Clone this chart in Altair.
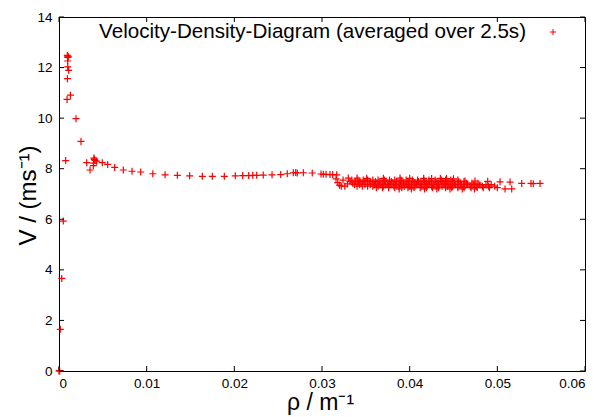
import altair as alt
import pandas as pd

# ---- data ----
# rising branch, peak and decay towards free-flow speed
rho_a = [0.0, 0.00004, 0.00008, 0.00015, 0.00031, 0.00049, 0.00076, 0.00092, 0.00096,
         0.00099, 0.00099, 0.00099, 0.00102, 0.00095, 0.00105, 0.00110, 0.00130,
         0.00194, 0.00251, 0.00316, 0.00354, 0.00392, 0.00396, 0.00403, 0.00398,
         0.00410, 0.00430, 0.00494, 0.00555, 0.00635, 0.00734, 0.00833, 0.00932,
         0.01070, 0.01210, 0.01350, 0.01490]
v_a = [0.0, 0.02, 0.0, 1.65, 3.66, 5.93, 8.32, 10.74, 11.56,
       12.03, 12.26, 12.40, 12.45, 12.48, 12.42, 11.89, 10.91,
       9.98, 9.08, 8.24, 7.95, 8.12, 8.22, 8.37, 8.42,
       8.33, 8.30, 8.24, 8.17, 8.05, 7.95, 7.90, 7.87,
       7.80, 7.76, 7.74, 7.72]

# plateau
rho_b = [0.01635, 0.01749, 0.01886, 0.02011, 0.02095, 0.02164, 0.02210, 0.02255,
         0.02330, 0.02430, 0.02529, 0.02604, 0.02673, 0.02700, 0.02718, 0.02787,
         0.02889, 0.02989, 0.03015, 0.03046, 0.03091, 0.03122, 0.03168,
         0.0316, 0.0318, 0.0320, 0.0322, 0.0326, 0.0329, 0.0324]
v_b = [7.70, 7.70, 7.70, 7.72, 7.73, 7.73, 7.74, 7.74,
       7.75, 7.76, 7.77, 7.80, 7.84, 7.85, 7.83, 7.84,
       7.83, 7.79, 7.78, 7.78, 7.77, 7.77, 7.76,
       7.60, 7.45, 7.35, 7.31, 7.31, 7.40, 7.55]

# dense congested band, one list per speed level
band_755 = [0.0334, 0.0341, 0.0347, 0.0352, 0.0358, 0.0364, 0.0371, 0.0377, 0.0383, 0.0390,
            0.0396, 0.0403, 0.0409, 0.0416, 0.0422, 0.0429, 0.0436, 0.0441, 0.0447, 0.0455]
band_749 = [0.0332, 0.0338, 0.0343, 0.0349, 0.0355, 0.0361, 0.0366, 0.0372, 0.0379, 0.0385,
            0.0391, 0.0398, 0.0404, 0.0410, 0.0417, 0.0423, 0.0430, 0.0436, 0.0442, 0.0449,
            0.0456, 0.0462]
band_743 = [0.0335, 0.0341, 0.0346, 0.0352, 0.0358, 0.0363, 0.0369, 0.0375, 0.0381, 0.0388,
            0.0393, 0.0399, 0.0406, 0.0412, 0.0419, 0.0425, 0.0432, 0.0438, 0.0444, 0.0451,
            0.0458, 0.0465, 0.0471, 0.0478]
band_737 = [0.0337, 0.0343, 0.0349, 0.0355, 0.0360, 0.0366, 0.0372, 0.0378, 0.0384, 0.0390,
            0.0396, 0.0402, 0.0408, 0.0414, 0.0421, 0.0427, 0.0433, 0.0440, 0.0446, 0.0452,
            0.0459, 0.0466, 0.0473, 0.0480, 0.0487, 0.0493]
band_731 = [0.0340, 0.0346, 0.0352, 0.0358, 0.0364, 0.0370, 0.0376, 0.0382, 0.0388, 0.0394,
            0.0400, 0.0406, 0.0413, 0.0419, 0.0425, 0.0431, 0.0437, 0.0443, 0.0449, 0.0455,
            0.0462, 0.0469, 0.0476, 0.0483, 0.0490, 0.0497]
band_725 = [0.0362, 0.0369, 0.0376, 0.0383, 0.0391, 0.0398, 0.0405, 0.0412, 0.0419, 0.0426,
            0.0433, 0.0441, 0.0448, 0.0455, 0.0462, 0.0470, 0.0477, 0.0484, 0.0491, 0.0500]
band_720 = [0.0388, 0.0402, 0.0417, 0.0431, 0.0446, 0.0460, 0.0474]
band_levels = [7.55, 7.49, 7.43, 7.37, 7.31, 7.25, 7.20]
band_rows = [band_755, band_749, band_743, band_737, band_731, band_725, band_720]

# scattered points above the band and the tail
rho_c = [0.0330, 0.0340, 0.0351, 0.0370, 0.0389, 0.0400, 0.0416, 0.0425, 0.0435, 0.0442, 0.0450,
         0.04631, 0.04745, 0.04890, 0.05031, 0.05145,
         0.05278, 0.05384, 0.05410, 0.05487, 0.05088, 0.05164]
v_c = [7.63, 7.63, 7.62, 7.62, 7.63, 7.62, 7.62, 7.61, 7.62, 7.61, 7.60,
       7.51, 7.51, 7.50, 7.48, 7.47,
       7.42, 7.42, 7.41, 7.42, 7.20, 7.20]

x_ticks = [0.0, 0.01, 0.02, 0.03, 0.04, 0.05, 0.06]
y_ticks = [0, 2, 4, 6, 8, 10, 12, 14]

legend_label = "Velocity-Density-Diagram (averaged over 2.5s)"
x_title = "ρ / m⁻¹"
y_title = "V / (ms⁻¹)"

# ---- build table ----
rho_all = list(rho_a) + list(rho_b)
v_all = list(v_a) + list(v_b)
for lvl, row in zip(band_levels, band_rows):
    rho_all += row
    v_all += [lvl] * len(row)
rho_all += rho_c
v_all += v_c
df = pd.DataFrame({"rho": rho_all, "v": v_all})

W, H = 526, 354
FONT = "Liberation Sans"
RED = "#ff0000"
PLUS = "M-1,0L1,0M0,-1L0,1"

xscale = alt.Scale(domain=[0, 0.06], nice=False, zero=True)
yscale = alt.Scale(domain=[0, 14], nice=False, zero=True)

xaxis = alt.Axis(values=x_ticks, title=x_title, labelPadding=5, titleFontSize=23,
                 labelExpr="datum.value == 0 ? '0' : format(datum.value, '.2f')",
                 titleX=261, titleY=38, titleBaseline="alphabetic", titleAlign="center")
yaxis = alt.Axis(values=y_ticks, title=y_title,
                 titleAngle=270, titleX=-24, titleY=178,
                 titleAlign="center", titleBaseline="alphabetic")

points = alt.Chart(df).mark_point(
    shape=PLUS, filled=False, stroke=RED, strokeWidth=1.2, size=49, opacity=1, clip=False
).encode(
    x=alt.X("rho:Q", scale=xscale, axis=xaxis),
    y=alt.Y("v:Q", scale=yscale, axis=yaxis),
)

xt = pd.DataFrame({"t": x_ticks})
yt = pd.DataFrame({"t": y_ticks})

tick_style = dict(color="black", strokeWidth=1)
xb = alt.Chart(xt).mark_rule(**tick_style).encode(
    x=alt.X("t:Q", scale=xscale, axis=xaxis), y=alt.value(H), y2=alt.value(H - 5))
xtop = alt.Chart(xt).mark_rule(**tick_style).encode(
    x=alt.X("t:Q", scale=xscale, axis=xaxis), y=alt.value(0), y2=alt.value(5))
yl = alt.Chart(yt).mark_rule(**tick_style).encode(
    y=alt.Y("t:Q", scale=yscale, axis=yaxis), x=alt.value(0), x2=alt.value(5))
yr = alt.Chart(yt).mark_rule(**tick_style).encode(
    y=alt.Y("t:Q", scale=yscale, axis=yaxis), x=alt.value(W), x2=alt.value(W - 5))

leg_df = pd.DataFrame({"label": [legend_label]})
leg_text = alt.Chart(leg_df).mark_text(
    align="right", baseline="middle", font=FONT, fontSize=20.6, color="black"
).encode(text="label:N", x=alt.value(467), y=alt.value(15))
leg_sym = alt.Chart(leg_df).mark_point(
    shape=PLUS, filled=False, stroke=RED, strokeWidth=1, size=36, opacity=1
).encode(x=alt.value(494), y=alt.value(15))

chart = alt.layer(points, xb, xtop, yl, yr, leg_text, leg_sym).properties(
    width=W, height=H,
    autosize=alt.AutoSizeParams(type="none"),
    padding={"left": 51, "top": 9, "right": 14, "bottom": 46},
    background="white",
).configure_view(
    stroke="black", strokeWidth=1
).configure_axis(
    domain=False, ticks=False, grid=False,
    labelFont=FONT, labelFontSize=13.5, labelColor="black", labelPadding=7,
    titleFont=FONT, titleFontSize=24, titleFontWeight="normal", titleColor="black",
)

chart.save("out.html", embed_options={"renderer": "svg", "actions": False})
